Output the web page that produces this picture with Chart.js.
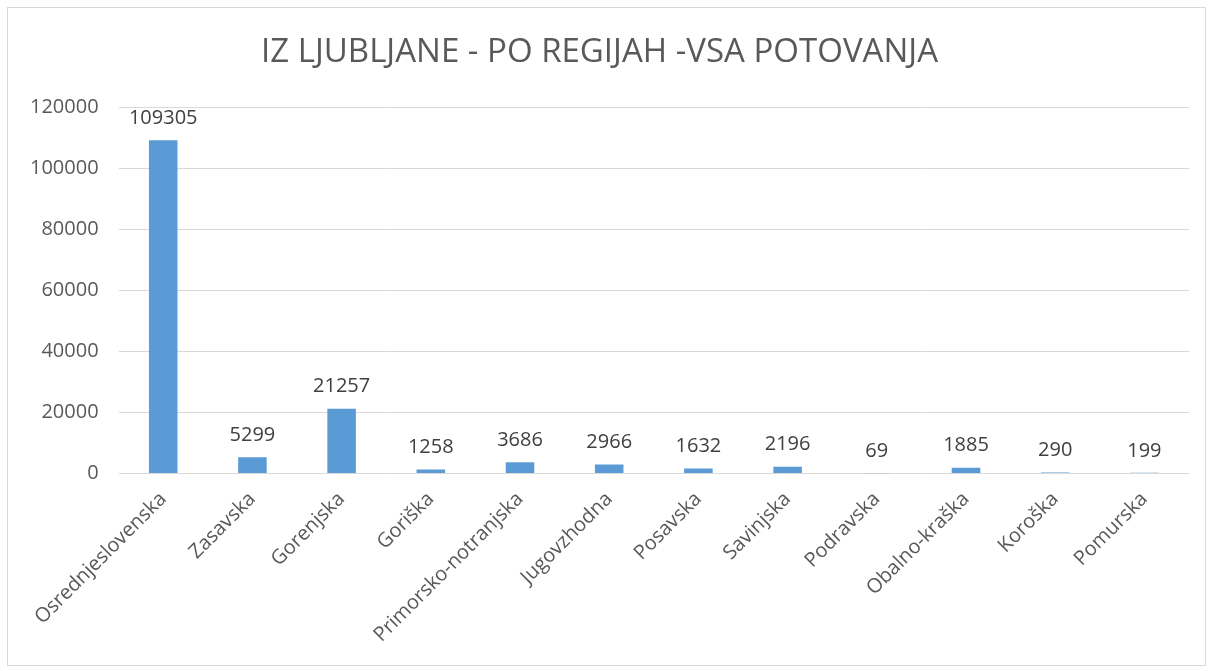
<!DOCTYPE html>
<html>
<head>
<meta charset="utf-8">
<script src="https://cdn.jsdelivr.net/npm/chart.js@4/dist/chart.umd.min.js"></script>
<style>
  body { margin: 0; background: #fff; }
  #box { position: absolute; left: 7px; top: 7px; width: 1197px; height: 657px; border: 1px solid #d9d9d9; }
</style>
</head>
<body>
<div id="box"><canvas id="myChart" width="1197" height="657"></canvas></div>
<script>
var regions = ["Osrednjeslovenska", "Zasavska", "Gorenjska", "Goriška", "Primorsko-notranjska",
  "Jugovzhodna", "Posavska", "Savinjska", "Podravska", "Obalno-kraška", "Koroška", "Pomurska"];
var trips = [109305, 5299, 21257, 1258, 3686, 2966, 1632, 2196, 69, 1885, 290, 199];
var yTicks = [0, 20000, 40000, 60000, 80000, 100000, 120000];

var font = "'Open Sans', 'Liberation Sans', sans-serif";

// draws the value above each bar
var valueLabels = {
  id: 'valueLabels',
  afterDatasetsDraw: function(chart) {
    var ctx = chart.ctx;
    var meta = chart.getDatasetMeta(0);
    ctx.save();
    ctx.font = "20px " + font;
    ctx.fillStyle = "#404040";
    ctx.textAlign = "center";
    ctx.textBaseline = "bottom";
    meta.data.forEach(function(bar, i) {
      ctx.fillText(String(trips[i]), bar.x, bar.y - 12);
    });
    ctx.restore();
  }
};

var ctx = document.getElementById("myChart").getContext('2d');
var chart = new Chart(ctx, {
  type: 'bar',
  data: {
    labels: regions,
    datasets: [{
      data: trips,
      backgroundColor: "#5B9BD5",
      barPercentage: 0.32,
      categoryPercentage: 1
    }]
  },
  options: {
    responsive: false,
    animation: false,
    layout: { padding: { left: 2, right: 16, top: 10, bottom: 4 } },
    plugins: {
      legend: { display: false },
      tooltip: { enabled: false },
      title: {
        display: true,
        text: "IZ LJUBLJANE - PO REGIJAH -VSA POTOVANJA",
        color: "#595959",
        font: { family: font, size: 33, weight: 'normal' },
        padding: { top: 15, bottom: 35 }
      }
    },
    scales: {
      y: {
        min: 0,
        max: 120000,
        afterBuildTicks: function(axis) {
          axis.ticks = yTicks.map(function(v) { return { value: v }; });
        },
        border: { display: false },
        grid: { color: "#d9d9d9", lineWidth: 1, drawTicks: false },
        ticks: {
          color: "#595959",
          padding: 20,
          font: { family: font, size: 20 },
          callback: function(v) { return String(v); }
        }
      },
      x: {
        border: { display: false },
        grid: { display: false, drawTicks: false },
        ticks: {
          color: "#595959",
          padding: 14,
          maxRotation: 45,
          minRotation: 45,
          autoSkip: false,
          font: { family: font, size: 20 }
        }
      }
    }
  },
  plugins: [valueLabels]
});
</script>
</body>
</html>
